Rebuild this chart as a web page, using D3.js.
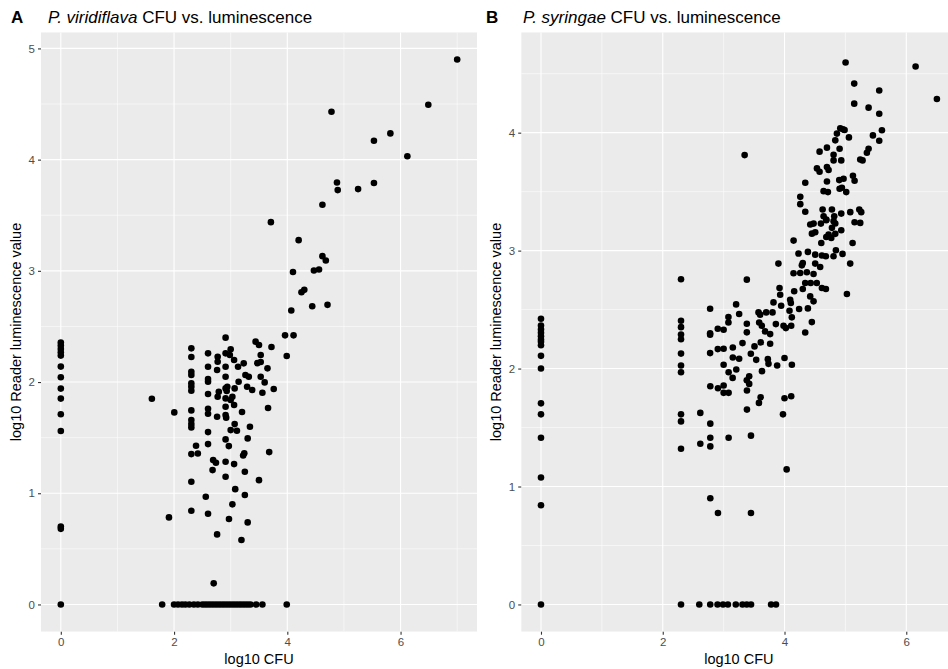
<!DOCTYPE html>
<html><head><meta charset="utf-8">
<script src="https://cdn.jsdelivr.net/npm/d3@7"></script>
<style>body{margin:0;background:#fff} text{font-family:"Liberation Sans",Arial,Helvetica,sans-serif}</style>
</head><body><svg id="c" width="948" height="669"></svg>
<script>
const tags = ["A", "B"];
const titleItalic = ["P. viridiflava", "P. syringae"];
const titleRest = " CFU vs. luminescence";
const xLabel = "log10 CFU";
const yLabel = "log10 Reader luminescence value";
const xTicks = [0, 2, 4, 6];
const yTicksA = [0, 1, 2, 3, 4, 5];
const yTicksB = [0, 1, 2, 3, 4];

// Panel A: [log10 CFU, log10 luminescence]
const pointsA = [
  [0,2.355],[0,2.328],[0,2.298],[0,2.268],[0,2.238],[0,2.139],[0,2.043],[0,1.941],[0,1.851],[0,1.71],[0,1.56],[0,0.70],[0,0.68],[0,0],
  [1.79,0],[2.0,0],[2.07,0],[2.14,0],[2.2,0],[2.27,0],[2.35,0],[2.42,0],[2.5,0],[2.55,0],[2.6,0],[2.65,0],[2.7,0],[2.75,0],[2.8,0],[2.85,0],[2.9,0],[2.95,0],[3.0,0],[3.05,0],[3.1,0],[3.15,0],[3.2,0],[3.25,0],[3.3,0],[3.35,0],[3.45,0],[3.56,0],[3.99,0],
  [2.70,0.19],
  [1.608,1.85],[2.004,1.727],[1.91,0.783],
  [2.305,2.303],[2.305,2.225],[2.305,2.093],[2.305,2.063],[2.305,1.988],[2.305,1.958],[2.305,1.922],[2.305,1.745],[2.305,1.658],[2.305,1.622],[2.305,1.592],[2.305,1.352],[2.305,1.103],[2.305,0.843],
  [2.388,1.427],[2.42,1.358],
  [2.60,2.258],[2.60,2.138],[2.60,2.027],[2.60,2.003],[2.60,1.892],[2.60,1.760],[2.60,1.715],[2.60,1.550],[2.60,1.442],[2.60,0.816],
  [2.56,0.969],[2.76,0.63],
  [2.77,2.228],[2.77,2.183],[2.76,2.108],[2.79,1.913],[2.77,1.868],[2.76,1.688],[2.69,1.298],[2.74,1.274],[2.68,1.208],
  [2.91,2.399],
  [2.91,2.258],[2.91,2.138],[2.91,2.048],[2.91,1.943],[2.91,1.853],[2.91,1.778],[2.91,1.703],[2.91,1.484],[2.91,1.283],[2.91,1.148],[2.93,1.92],[2.92,1.68],
  [3.0,2.294],[2.985,2.243],[3.06,2.198],
  [2.967,1.424],[2.97,0.768],[3.03,0.9],[3.08,1.037],[3.06,1.262],
  [3.0,1.568],[3.07,1.622],[3.11,1.562],
  [3.0,1.838],[3.06,1.793],[3.03,1.868],[3.07,1.943],[2.94,1.958],
  [3.14,2.003],[3.13,2.138],[3.23,2.168],
  [3.20,1.73],[3.19,0.579],[3.25,1.193],[3.25,0.984],[3.30,0.738],[3.22,1.34],[3.24,1.36],[3.30,1.493],[3.34,1.598],
  [3.26,2.063],[3.32,2.048],[3.29,1.958],[3.38,1.928],
  [3.44,2.363],[3.50,2.333],[3.53,2.243],[3.47,2.17],[3.53,2.18],[3.65,2.123],[3.53,2.048],[3.60,1.997],[3.56,1.904],[3.76,1.937],[3.66,1.766],[3.50,1.118],[3.68,1.37],[3.72,2.315],
  [3.96,2.42],[4.11,2.42],[3.99,2.234],
  [4.877,3.795],[4.89,3.726],[5.25,3.735],[5.53,3.79],[4.62,3.594],[3.71,3.438],[4.20,3.276],[4.62,3.132],[4.68,3.093],[4.10,2.99],[4.47,3.003],[4.56,3.012],[4.25,2.808],[4.30,2.829],[4.44,2.682],[4.71,2.694],[4.07,2.643],
  [4.78,4.43],[5.53,4.17],[5.82,4.236],[6.12,4.03],[6.49,4.494],[7.0,4.90]
];

// Panel B: [log10 CFU, log10 luminescence]
const pointsB = [
  [0,2.422],[0,2.365],[0,2.332],[0,2.303],[0,2.275],[0,2.247],[0,2.227],[0,2.198],[0,2.108],[0,2.0],[0,1.705],[0,1.612],[0,1.414],[0,1.076],[0,0.841],[0,0],
  [2.30,2.757],[2.30,2.405],[2.30,2.351],[2.30,2.289],[2.30,2.249],[2.30,2.127],[2.30,2.026],[2.30,1.969],[2.30,1.612],[2.30,1.552],[2.30,1.32],
  [2.30,0],[2.60,0],[2.78,0],[2.90,0],[2.99,0],[3.07,0],[3.20,0],[3.31,0],[3.38,0],[3.45,0],[3.78,0],[3.86,0],
  [2.781,0.901],[2.907,0.776],[3.449,0.776],[4.035,1.145],
  [2.781,1.533],[2.781,1.414],[2.781,1.340],[3.082,1.414],[3.449,1.431],
  [2.617,1.624],[2.617,1.363],[3.383,1.652],[3.58,1.709],[3.608,1.757],[3.975,1.612],[4.0,1.748],[4.11,1.765],
  [2.781,1.850],[2.907,1.833],[3.0,1.856],[3.0,1.794],[3.082,1.794],[3.383,1.814],[3.38,1.90],[3.42,1.87],[3.42,1.935],[3.148,1.921],[3.082,1.969],[3.208,1.992],[3.63,1.978],
  [3.381,2.754],[2.778,2.507],[3.205,2.544],[3.079,2.437],[3.079,2.391],[3.255,2.462],
  [2.778,2.30],[2.778,2.287],[2.904,2.338],[3.0,2.329],[2.778,2.131],[2.904,2.165],[3.0,2.168],
  [3.151,2.179],[3.151,2.094],[3.255,2.083],[3.0,2.032],[3.381,2.38],[3.381,2.307],[3.31,2.216],
  [3.447,2.125],[3.507,2.188],[3.61,2.222],[3.764,2.21],[3.535,2.074],[3.726,2.08],[3.737,2.04],
  [3.879,2.026],[4.0,2.089],[4.121,2.032],[3.573,2.476],[3.6,2.457],[3.699,2.476],[3.803,2.476],
  [3.584,2.391],[3.627,2.363],[3.68,2.315],[3.764,2.292],[3.858,2.377],[3.984,2.363],[4.022,2.343],
  [4.11,2.363],[3.945,2.533],[4.093,2.584],[4.104,2.556],[4.082,2.49],[4.12,2.434],[4.24,2.505],
  [4.384,2.51],[4.449,2.394],[4.34,2.306],[3.819,2.561],[3.918,2.683],[3.929,2.626],[4.159,2.655],
  [4.30,2.674],[4.422,2.612],[4.477,2.57],[4.34,2.725],[4.43,2.725],[4.53,2.725],[4.614,2.683],
  [4.68,2.674],[5.025,2.632],[4.148,2.808],[4.258,2.81],[4.367,2.816],[4.477,2.802],[4.285,2.875],
  [4.30,2.895],[4.504,2.89],[4.586,2.861],[4.23,2.975],[4.384,2.989],[4.504,2.966],[4.614,2.958],
  [4.679,2.952],[4.805,2.952],[4.953,2.972],[5.079,2.89],[3.90,2.89],[4.844,3.003],
  [5.003,4.595],[6.153,4.561],[6.503,4.286],[5.145,4.416],[5.556,4.357],[5.145,4.246],[5.381,4.212],
  [5.556,4.161],[5.6,4.02],[5.452,3.977],[5.556,3.932],[4.916,4.037],[4.96,4.028],[4.987,4.023],
  [4.861,3.992],[5.058,3.96],[4.834,3.935],[4.697,3.873],[4.905,3.864],[4.576,3.839],[4.806,3.813],
  [4.806,3.765],[4.932,3.765],[3.345,3.81],[5.381,3.864],[5.353,3.83],[5.244,3.773],[5.282,3.765],
  [4.533,3.697],[4.576,3.669],[4.697,3.708],[4.724,3.683],[4.341,3.575],[4.697,3.586],[4.899,3.598],
  [4.97,3.609],[5.124,3.635],[5.151,3.592],[4.642,3.504],[4.713,3.496],[4.905,3.524],[4.943,3.533],
  [5.014,3.496],[4.259,3.456],[4.259,3.394],[4.341,3.329],[4.626,3.348],[4.779,3.348],[4.642,3.292],
  [4.686,3.263],[4.817,3.292],[4.932,3.314],[5.08,3.326],[5.228,3.348],[5.26,3.326],[5.151,3.241],
  [5.244,3.235],[4.423,3.221],[4.478,3.229],[4.598,3.229],[4.686,3.258],[4.806,3.25],[4.779,3.193],
  [4.834,3.23],[4.932,3.173],[4.45,3.144],[4.505,3.156],[4.686,3.116],[4.724,3.136],[4.834,3.142],
  [4.149,3.085],[4.604,3.065],[4.768,3.108],[5.118,3.065]
];

const svg = d3.select("#c");

function drawPanel(cfg) {
  const x = d3.scaleLinear().domain(cfg.xDomain).range([cfg.left, cfg.right]);
  const y = d3.scaleLinear().domain(cfg.yDomain).range([cfg.bottom, cfg.top]);
  const g = svg.append("g");
  const clipId = "clip" + cfg.id;
  svg.append("clipPath").attr("id", clipId).append("rect")
    .attr("x", cfg.left).attr("y", cfg.top)
    .attr("width", cfg.right - cfg.left).attr("height", cfg.bottom - cfg.top);
  const pg = g.append("g").attr("clip-path", `url(#${clipId})`);
  pg.append("rect").attr("x", cfg.left).attr("y", cfg.top)
    .attr("width", cfg.right - cfg.left).attr("height", cfg.bottom - cfg.top)
    .attr("fill", "#EBEBEB");
  pg.selectAll(".mx").data(cfg.xMinor).join("line")
    .attr("x1", d => x(d)).attr("x2", d => x(d)).attr("y1", cfg.top).attr("y2", cfg.bottom)
    .attr("stroke", "#fff").attr("stroke-width", 0.55);
  pg.selectAll(".my").data(cfg.yMinor).join("line")
    .attr("y1", d => y(d)).attr("y2", d => y(d)).attr("x1", cfg.left).attr("x2", cfg.right)
    .attr("stroke", "#fff").attr("stroke-width", 0.55);
  pg.selectAll(".Mx").data(xTicks).join("line")
    .attr("x1", d => x(d)).attr("x2", d => x(d)).attr("y1", cfg.top).attr("y2", cfg.bottom)
    .attr("stroke", "#fff").attr("stroke-width", 1.1);
  pg.selectAll(".My").data(cfg.yTicks).join("line")
    .attr("y1", d => y(d)).attr("y2", d => y(d)).attr("x1", cfg.left).attr("x2", cfg.right)
    .attr("stroke", "#fff").attr("stroke-width", 1.1);
  pg.selectAll("circle").data(cfg.points).join("circle")
    .attr("cx", d => x(d[0])).attr("cy", d => y(d[1])).attr("r", 3.3).attr("fill", "#000");
  const xa = g.append("g").attr("transform", `translate(0,${cfg.bottom})`)
    .call(d3.axisBottom(x).tickValues(xTicks).tickSize(3).tickPadding(3).tickFormat(d3.format("d")));
  const ya = g.append("g").attr("transform", `translate(${cfg.left},0)`)
    .call(d3.axisLeft(y).tickValues(cfg.yTicks).tickSize(3).tickPadding(3).tickFormat(d3.format("d")));
  [xa, ya].forEach(a => {
    a.select(".domain").remove();
    a.selectAll(".tick line").attr("stroke", "#333").attr("stroke-width", 1.1);
    a.selectAll(".tick text").attr("fill", "#4D4D4D").style("font-size", "11.5px")
      .style("font-family", "'Liberation Sans', Arial, sans-serif");
  });
  g.append("text").attr("x", (cfg.left + cfg.right) / 2).attr("y", 664)
    .attr("text-anchor", "middle").style("font-size", "14.5px").attr("fill", "#000").text(xLabel);
  g.append("text").attr("transform", `translate(${cfg.left - 20},${(cfg.top + cfg.bottom) / 2}) rotate(-90)`)
    .attr("text-anchor", "middle").style("font-size", "14.5px").attr("fill", "#000").text(yLabel);
  g.append("text").attr("x", cfg.tagX).attr("y", 23).style("font-size", "17px")
    .style("font-weight", "bold").attr("fill", "#000").text(cfg.tag);
  const t = g.append("text").attr("x", cfg.titleX).attr("y", 23).style("font-size", "17px").attr("fill", "#000");
  t.append("tspan").style("font-style", "italic").text(cfg.italic);
  t.append("tspan").text(titleRest);
}

drawPanel({
  id: "A", tag: tags[0], italic: titleItalic[0], tagX: 11, titleX: 48,
  left: 41, right: 477, top: 32.3, bottom: 631.7,
  xDomain: [-0.35, 7.35], yDomain: [-0.245, 5.145],
  xMinor: [1, 3, 5, 7], yMinor: [0.5, 1.5, 2.5, 3.5, 4.5], yTicks: yTicksA,
  points: pointsA
});
drawPanel({
  id: "B", tag: tags[1], italic: titleItalic[1], tagX: 486, titleX: 523,
  left: 521.2, right: 956.5, top: 32.3, bottom: 631.7,
  xDomain: [-0.325, 6.825], yDomain: [-0.231, 4.851],
  xMinor: [1, 3, 5], yMinor: [0.5, 1.5, 2.5, 3.5, 4.5], yTicks: yTicksB,
  points: pointsB
});
</script></body></html>
